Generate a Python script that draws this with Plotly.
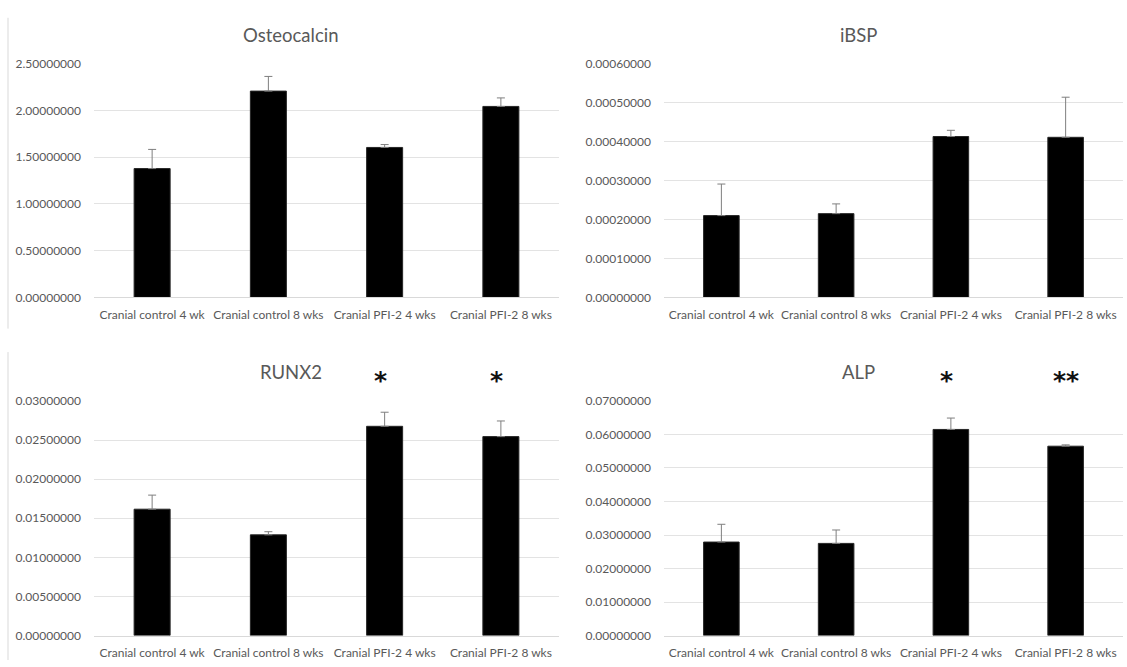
import plotly.graph_objects as go

W, H = 1127, 667

categories = ["Cranial control 4 wk", "Cranial control 8 wks", "Cranial PFI-2 4 wks", "Cranial PFI-2 8 wks"]

osteocalcin = [1.378, 2.207, 1.604, 2.043]
osteocalcin_err = [0.205, 0.157, 0.031, 0.091]

ibsp = [0.000210, 0.000215, 0.000413, 0.000411]
ibsp_err = [0.000081, 0.000025, 0.000016, 0.000103]

runx2 = [0.01616, 0.01288, 0.02676, 0.02544]
runx2_err = [0.0018, 0.0004, 0.0018, 0.0020]

alp = [0.0279, 0.0275, 0.0615, 0.0565]
alp_err = [0.0053, 0.0040, 0.0034, 0.0004]

titles = ["Osteocalcin", "iBSP", "RUNX2", "ALP"]
y_ranges = [(0, 2.5), (0, 0.0006), (0, 0.03), (0, 0.07)]
y_dticks = [0.5, 0.0001, 0.005, 0.01]
stars = [None, None, ["", "", "*", "*"], ["", "", "*", "**"]]

# panel pixel boxes: (left, right, top, bottom) of plot area
boxes = [(94, 559, 57, 296), (664, 1123, 57, 296), (94, 559, 402, 642), (664, 1123, 402, 642)]
title_pos = [(291, 28), (858, 28), (291, 372), (858, 372)]

FONT = "Lato"
GRAY = "#595959"

fig = go.Figure()
series = [(osteocalcin, osteocalcin_err), (ibsp, ibsp_err), (runx2, runx2_err), (alp, alp_err)]

annotations = []
for i, ((vals, errs), box) in enumerate(zip(series, boxes)):
    n = "" if i == 0 else str(i + 1)
    xa, ya = "x" + n, "y" + n
    fig.add_trace(go.Bar(
        x=categories, y=vals, xaxis=xa, yaxis=ya,
        width=0.31,
        marker=dict(color="#000000", line=dict(color="#262626", width=1)),
        error_y=dict(type="data", array=errs, symmetric=False, arrayminus=[0] * 4,
                     color="#7f7f7f", thickness=1, width=4),
        showlegend=False,
    ))
    l, r, t, b = box
    xkey = "xaxis" + n
    ykey = "yaxis" + n
    fig.update_layout(**{
        xkey: dict(domain=[l / W, r / W], anchor=ya, showgrid=False, showline=True,
                   linecolor="#d9d9d9", linewidth=1, ticks="", tickangle=0,
                   ticklabelstandoff=6,
                   tickfont=dict(family=FONT, size=12, color=GRAY), fixedrange=True),
        ykey: dict(domain=[1 - b / H, 1 - t / H], anchor=xa, range=list(y_ranges[i]),
                   dtick=y_dticks[i], tickformat=".8f", showgrid=True,
                   gridcolor="#e3e3e3", gridwidth=1, zeroline=False, showline=False,
                   ticks="", ticklabelstandoff=12, fixedrange=True,
                   tickfont=dict(family=FONT, size=12, color=GRAY)),
    })
    tx, ty = title_pos[i]
    annotations.append(dict(text=titles[i], x=tx / W, y=1 - ty / H, xref="paper", yref="paper",
                            showarrow=False, xanchor="center", yanchor="middle",
                            font=dict(family=FONT, size=18.5, color=GRAY)))
    if stars[i]:
        for c, s in zip(categories, stars[i]):
            if s:
                annotations.append(dict(text="<b>" + s + "</b>", x=c, xref=xa, y=1 - 381 / H, yref="paper",
                                        showarrow=False, xanchor="center", yanchor="middle",
                                        xshift=-4 if s == "*" else 0,
                                        font=dict(family="DejaVu Sans", size=25, color="#111111")))

shapes = [
    dict(type="line", xref="paper", yref="paper", x0=8 / W, x1=8 / W, y0=1 - 10 / H, y1=1 - 328 / H,
         line=dict(color="#d9d9d9", width=1)),
    dict(type="line", xref="paper", yref="paper", x0=8 / W, x1=8 / W, y0=1 - 352 / H, y1=0,
         line=dict(color="#d9d9d9", width=1)),
]

fig.update_layout(
    width=W, height=H,
    margin=dict(l=0, r=0, t=0, b=0),
    paper_bgcolor="white", plot_bgcolor="white",
    annotations=annotations, shapes=shapes,
    bargap=0.69,
)

fig.write_html("out.html", config={"displayModeBar": False},
               post_script="document.body.style.margin='0';document.body.style.overflow='hidden';")
